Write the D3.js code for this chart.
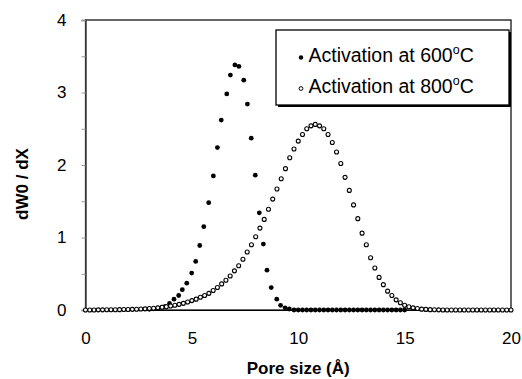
<!DOCTYPE html>
<html>
<head>
<meta charset="utf-8">
<script src="https://cdn.jsdelivr.net/npm/d3@7"></script>
<style>
  body { margin: 0; background: #fff; }
  text { font-family: "Liberation Sans", Arial, sans-serif; fill: #000; }
</style>
</head>
<body>
<div id="chart"></div>
<script>
var width  = 522,
    height = 379,
    margin = {top: 20, right: 11, bottom: 69, left: 85.5};

// pore size grid of the 800 C series (0 to 20 A, one point every 0.2 A)
var STEP_800 = 0.2;

// Activation at 800 C, dW0/dX
var y800 = [
  0.001, 0.001, 0.001, 0.002, 0.002, 0.003, 0.003, 0.004, 0.005, 0.006,
  0.007, 0.009, 0.011, 0.013, 0.016, 0.020, 0.025, 0.030, 0.037, 0.045,
  0.055, 0.066, 0.078, 0.092, 0.11, 0.13, 0.15, 0.175, 0.20, 0.23,
  0.27, 0.31, 0.36, 0.41, 0.47, 0.54, 0.61, 0.70, 0.80, 0.90,
  1.01, 1.13, 1.25, 1.39, 1.53, 1.67, 1.81, 1.95, 2.10, 2.22,
  2.33, 2.42, 2.50, 2.54, 2.56, 2.54, 2.50, 2.42, 2.31, 2.18,
  2.02, 1.83, 1.65, 1.45, 1.26, 1.06, 0.90, 0.72, 0.58, 0.45,
  0.35, 0.26, 0.20, 0.14, 0.10, 0.065, 0.045, 0.03, 0.02, 0.012,
  0.008, 0.005, 0.003, 0.002, 0.001, 0, 0, 0, 0, 0,
  0, 0, 0, 0, 0, 0, 0, 0, 0, 0, 0
];

// Activation at 600 C
var x600 = [
  3.0, 3.2, 3.4, 3.6, 3.75, 3.95, 4.16, 4.38, 4.55, 4.76,
  4.99, 5.18, 5.37, 5.56, 5.79, 6.01, 6.2, 6.38, 6.64, 6.81,
  7.02, 7.21, 7.44, 7.61, 7.79, 7.98, 8.17, 8.36, 8.53, 8.73,
  8.99, 9.17, 9.38, 9.58, 9.8, 10.0, 10.2, 10.4, 10.6, 10.8,
  11.0, 11.2, 11.4, 11.6, 11.8, 12.0, 12.2, 12.4, 12.6, 12.8,
  13.0, 13.2, 13.4, 13.6, 13.8, 14.0, 14.2, 14.4, 14.6, 14.8, 15.0
];
var y600 = [
  0.01, 0.015, 0.025, 0.04, 0.05, 0.09, 0.15, 0.20, 0.28, 0.37,
  0.51, 0.67, 0.89, 1.15, 1.48, 1.85, 2.24, 2.62, 2.98, 3.24,
  3.38, 3.36, 3.17, 2.84, 2.37, 1.86, 1.34, 0.91, 0.55, 0.31,
  0.15, 0.065, 0.03, 0.014, 0, 0, 0, 0, 0, 0,
  0, 0, 0, 0, 0, 0, 0, 0, 0, 0,
  0, 0, 0, 0, 0, 0, 0, 0, 0, 0, 0
];

var xTicks = [0, 5, 10, 15, 20],
    yTicks = [0, 1, 2, 3, 4],
    yMinorTicks = [0.5, 1.5, 2.5, 3.5];

var data800 = y800.map(function(v, i) { return [i * STEP_800, v]; });
var data600 = x600.map(function(v, i) { return [v, y600[i]]; });

var svg = d3.select("#chart").append("svg")
    .attr("width", width)
    .attr("height", height);

var xScale = d3.scaleLinear().domain([0, 20]).range([margin.left, width - margin.right]);
var yScale = d3.scaleLinear().domain([0, 4]).range([height - margin.bottom, margin.top]);

// plot frame
svg.append("rect")
    .attr("x", xScale(0))
    .attr("y", yScale(4))
    .attr("width", xScale(20) - xScale(0))
    .attr("height", yScale(0) - yScale(4))
    .attr("fill", "none")
    .attr("stroke", "#000")
    .attr("stroke-width", 1.2);

// y axis: small grey ticks at every half unit, labels on whole units
var yAxis = d3.axisLeft(yScale)
    .tickValues(yTicks.concat(yMinorTicks))
    .tickSize(4)
    .tickFormat(function(d) { return yTicks.indexOf(d) >= 0 ? d : ""; });

svg.append("g")
    .attr("transform", "translate(" + xScale(0) + ",0)")
    .call(yAxis)
    .call(function(g) {
      g.select(".domain").attr("stroke", "#444").attr("stroke-width", 1.5);
      g.selectAll(".tick line").attr("stroke", "#999");
      g.selectAll(".tick text")
        .attr("x", -19)
        .style("font-size", "17px")
        .style("font-family", "'Liberation Sans', Arial, sans-serif");
    });

var xAxis = d3.axisBottom(xScale)
    .tickValues(xTicks)
    .tickSize(0)
    .tickPadding(22);

svg.append("g")
    .attr("transform", "translate(0," + yScale(0) + ")")
    .call(xAxis)
    .call(function(g) {
      g.select(".domain").attr("stroke", "#000").attr("stroke-width", 1.2);
      g.selectAll(".tick text")
        .style("font-size", "17px")
        .style("font-family", "'Liberation Sans', Arial, sans-serif");
    });

// axis titles
svg.append("text")
    .attr("x", (xScale(0) + xScale(20)) / 2)
    .attr("y", 374)
    .attr("text-anchor", "middle")
    .style("font-size", "17px")
    .style("font-weight", "bold")
    .text("Pore size (Å)");

svg.append("text")
    .attr("transform", "translate(28," + 184 + ") rotate(-90)")
    .attr("text-anchor", "middle")
    .style("font-size", "17px")
    .style("font-weight", "bold")
    .text("dW0 / dX");

// 600 C: filled dots
svg.append("g").selectAll("circle")
    .data(data600)
  .enter().append("circle")
    .attr("cx", function(d) { return xScale(d[0]); })
    .attr("cy", function(d) { return yScale(d[1]); })
    .attr("r", 2.4)
    .attr("fill", "#000");

// 800 C: open circles
svg.append("g").selectAll("circle")
    .data(data800)
  .enter().append("circle")
    .attr("cx", function(d) { return xScale(d[0]); })
    .attr("cy", function(d) { return yScale(d[1]); })
    .attr("r", 2.0)
    .attr("fill", "#fff")
    .attr("stroke", "#000")
    .attr("stroke-width", 1.1);

// legend box with a drop shadow
var legend = svg.append("g");
legend.append("rect")
    .attr("x", 278).attr("y", 32)
    .attr("width", 233).attr("height", 75)
    .attr("fill", "#000");
legend.append("rect")
    .attr("x", 276).attr("y", 30)
    .attr("width", 233).attr("height", 75)
    .attr("fill", "#fff")
    .attr("stroke", "#000")
    .attr("stroke-width", 1.3);

var legendItems = [
  {label: "Activation at 600", filled: true,  y: 61.5},
  {label: "Activation at 800", filled: false, y: 92.5}
];

legendItems.forEach(function(item) {
  legend.append("circle")
      .attr("cx", 301)
      .attr("cy", item.y - 4)
      .attr("r", item.filled ? 2.2 : 1.9)
      .attr("fill", item.filled ? "#000" : "#fff")
      .attr("stroke", "#000")
      .attr("stroke-width", item.filled ? 0 : 1);
  var t = legend.append("text")
      .attr("x", 308.5)
      .attr("y", item.y)
      .style("font-size", "19.5px");
  t.append("tspan").text(item.label);
  t.append("tspan").attr("dy", -8).style("font-size", "12.5px").text("o");
  t.append("tspan").attr("dy", 8).text("C");
});
</script>
</body>
</html>
